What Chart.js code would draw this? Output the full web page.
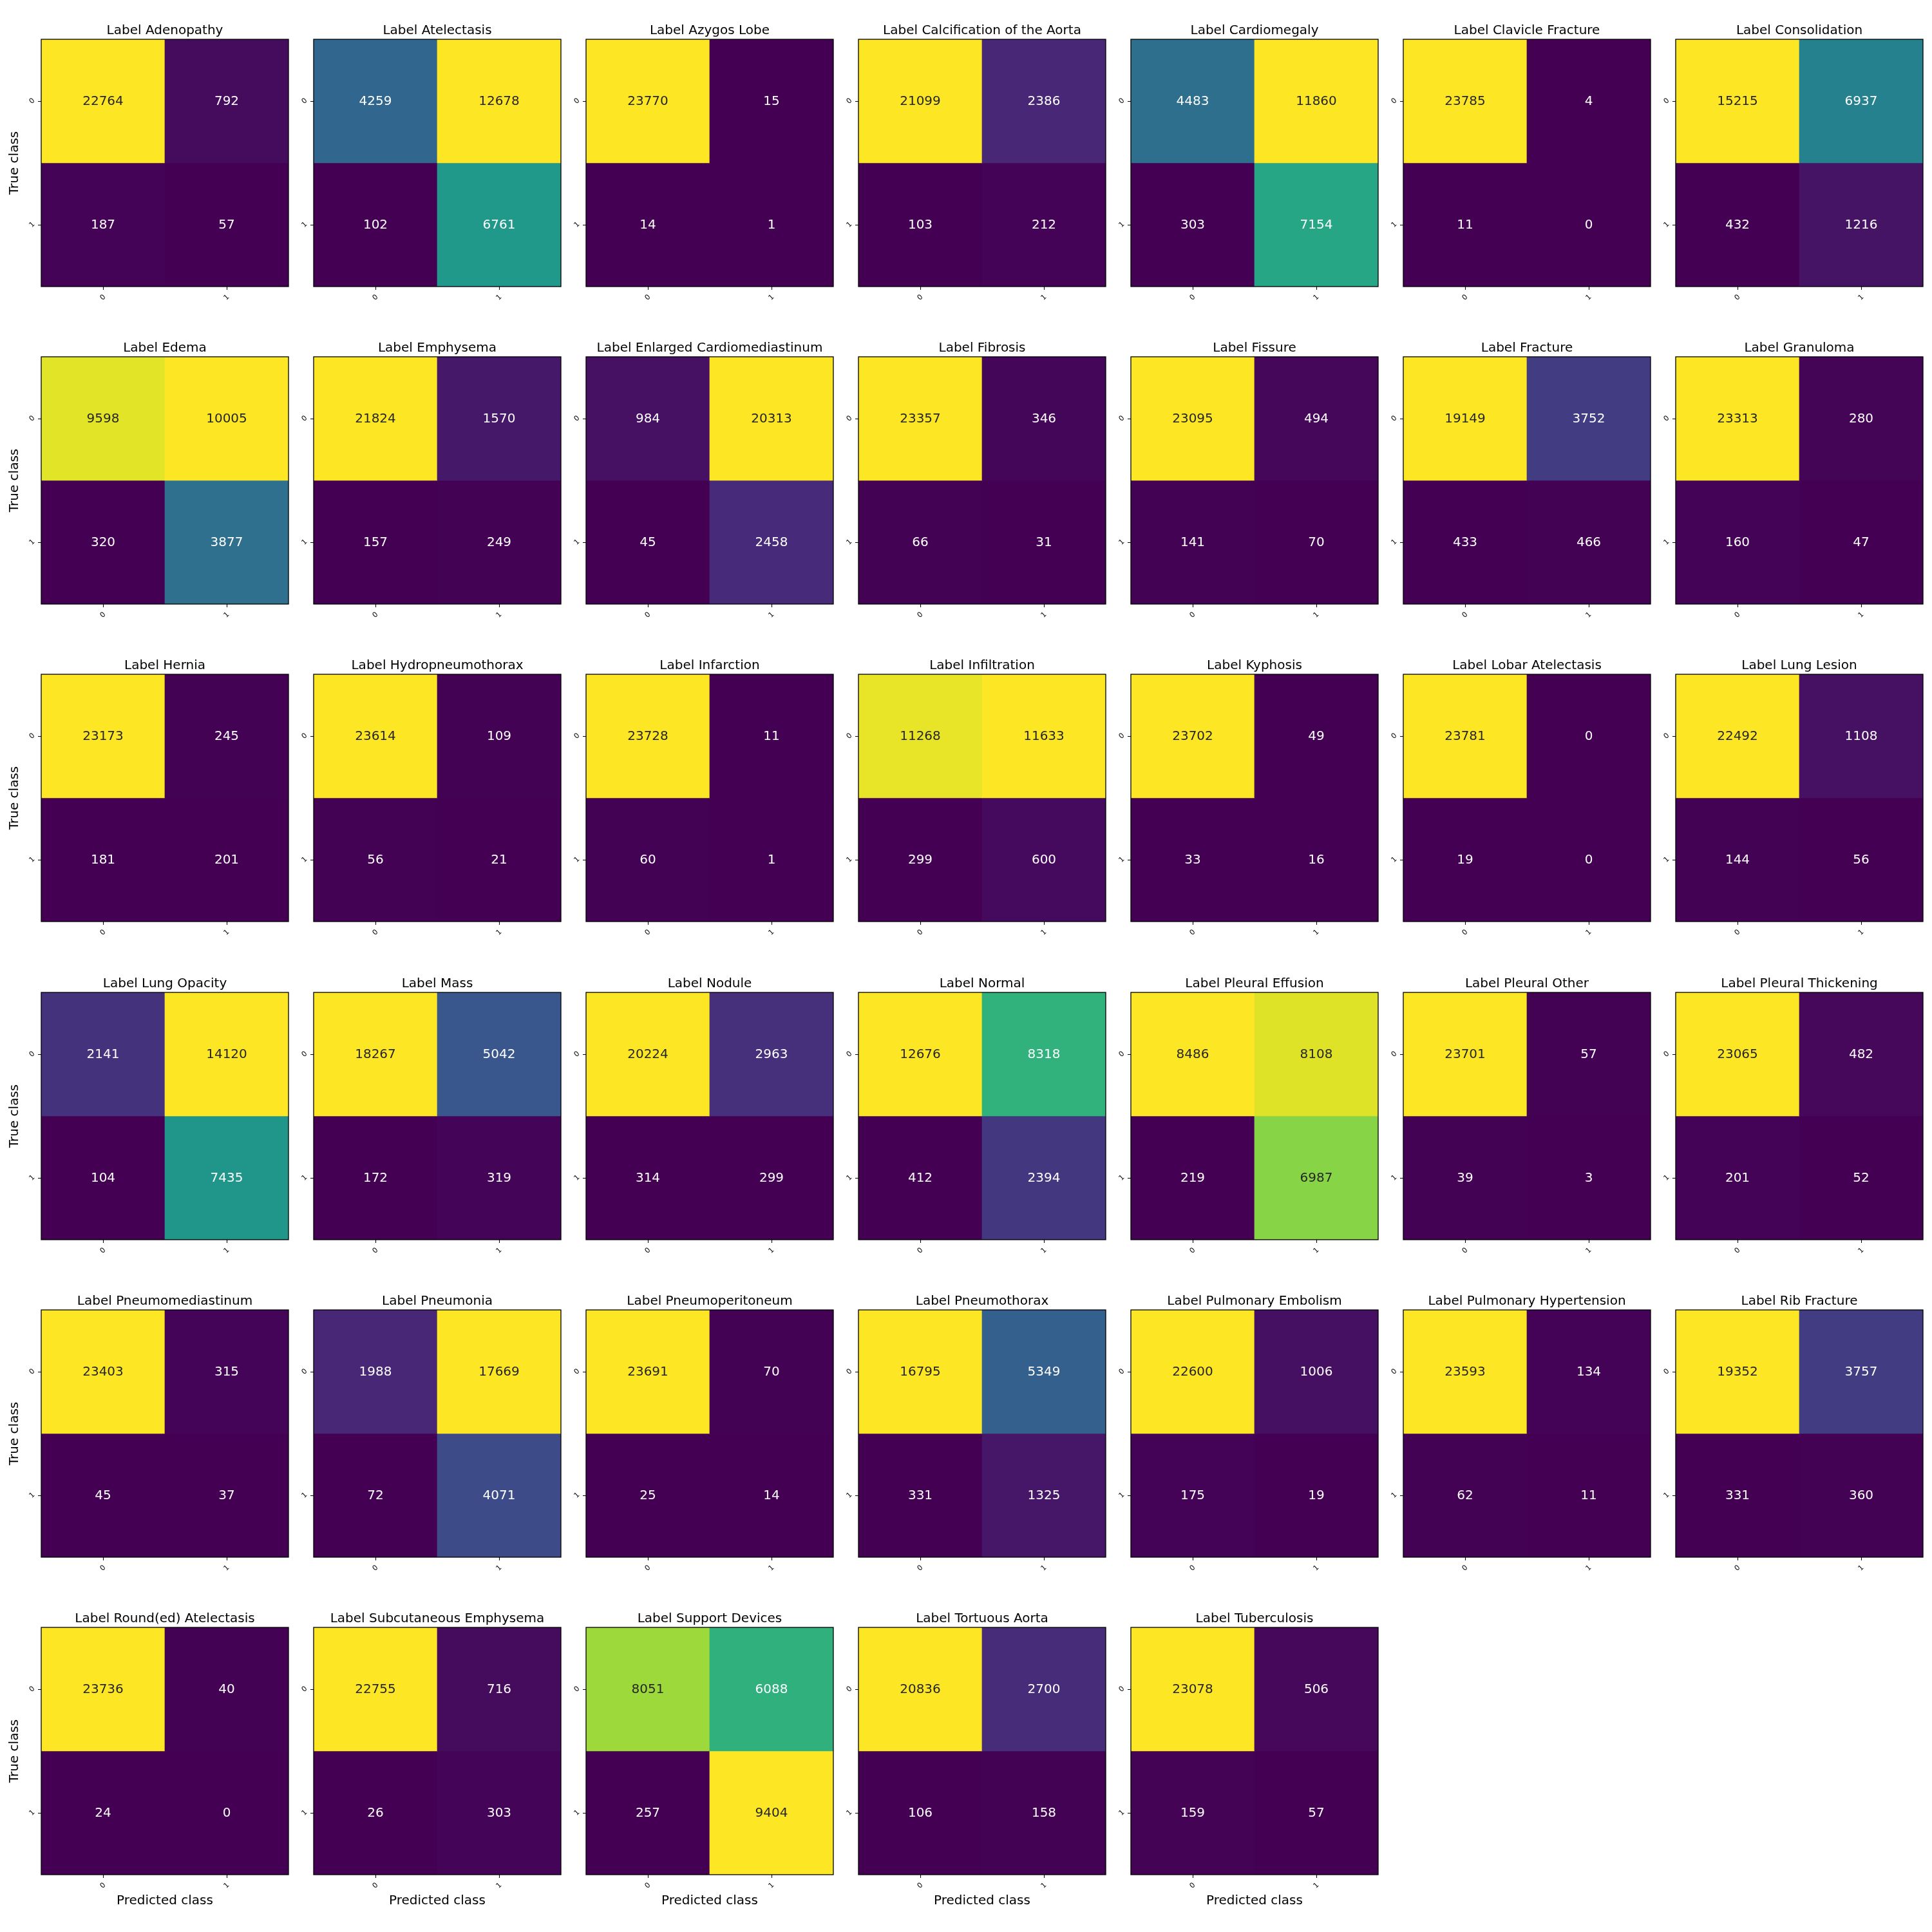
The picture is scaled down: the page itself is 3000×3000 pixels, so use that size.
<!DOCTYPE html>
<html><head><meta charset="utf-8">
<script src="https://cdn.jsdelivr.net/npm/chart.js@4.4.1/dist/chart.umd.min.js"></script>
<style>
html,body{margin:0;padding:0;background:#fff;}
#wrap{position:relative;width:3000px;height:3000px;background:#fff;overflow:hidden;}
#wrap canvas{position:absolute;}
</style></head><body><div id="wrap"></div>
<script>
// ---------------- data ----------------
const labelNames = ["Adenopathy","Atelectasis","Azygos Lobe","Calcification of the Aorta","Cardiomegaly","Clavicle Fracture","Consolidation",
 "Edema","Emphysema","Enlarged Cardiomediastinum","Fibrosis","Fissure","Fracture","Granuloma",
 "Hernia","Hydropneumothorax","Infarction","Infiltration","Kyphosis","Lobar Atelectasis","Lung Lesion",
 "Lung Opacity","Mass","Nodule","Normal","Pleural Effusion","Pleural Other","Pleural Thickening",
 "Pneumomediastinum","Pneumonia","Pneumoperitoneum","Pneumothorax","Pulmonary Embolism","Pulmonary Hypertension","Rib Fracture",
 "Round(ed) Atelectasis","Subcutaneous Emphysema","Support Devices","Tortuous Aorta","Tuberculosis"];
// cell [true 0, predicted 0]
const trueNeg  = [22764,4259,23770,21099,4483,23785,15215, 9598,21824,984,23357,23095,19149,23313, 23173,23614,23728,11268,23702,23781,22492, 2141,18267,20224,12676,8486,23701,23065, 23403,1988,23691,16795,22600,23593,19352, 23736,22755,8051,20836,23078];
// cell [true 0, predicted 1]
const falsePos = [792,12678,15,2386,11860,4,6937, 10005,1570,20313,346,494,3752,280, 245,109,11,11633,49,0,1108, 14120,5042,2963,8318,8108,57,482, 315,17669,70,5349,1006,134,3757, 40,716,6088,2700,506];
// cell [true 1, predicted 0]
const falseNeg = [187,102,14,103,303,11,432, 320,157,45,66,141,433,160, 181,56,60,299,33,19,144, 104,172,314,412,219,39,201, 45,72,25,331,175,62,331, 24,26,257,106,159];
// cell [true 1, predicted 1]
const truePos  = [57,6761,1,212,7154,0,1216, 3877,249,2458,31,70,466,47, 201,21,1,600,16,0,56, 7435,319,299,2394,6987,3,52, 37,4071,14,1325,19,11,360, 0,303,9404,158,57];
const classTicks = ["0","1"];

// ---------------- style ----------------
const FONT = "'DejaVu Sans', 'Liberation Sans', sans-serif";
const VIR = [[0,'#440154'],[1/9,'#482878'],[2/9,'#3e4989'],[0.25,'#3b528b'],[3/9,'#31688e'],[4/9,'#26828e'],[0.5,'#21918c'],[5/9,'#1f9e89'],[6/9,'#35b779'],[0.75,'#5ec962'],[7/9,'#6ece58'],[8/9,'#b5de2b'],[1,'#fde725']];
function hex2rgb(h){return [parseInt(h.slice(1,3),16),parseInt(h.slice(3,5),16),parseInt(h.slice(5,7),16)];}
function viridis(t){
  t=Math.max(0,Math.min(1,t));
  for(let i=0;i<VIR.length-1;i++){
    const [t0,c0]=VIR[i],[t1,c1]=VIR[i+1];
    if(t<=t1){const f=(t-t0)/(t1-t0);const a=hex2rgb(c0),b=hex2rgb(c1);
      return a.map((v,k)=>Math.round(v+(b[k]-v)*f));}
  }
  return hex2rgb('#fde725');
}
function lum(rgb){
  const l=rgb.map(v=>{v/=255;return v<=0.03928?v/12.92:Math.pow((v+0.055)/1.055,2.4);});
  return 0.2126*l[0]+0.7152*l[1]+0.0722*l[2];
}
const css=rgb=>`rgb(${rgb[0]},${rgb[1]},${rgb[2]})`;

const NCOL=7, PLOT=384, X0=64, XSTEP=423, Y0=61, YSTEP=493.2;
const PADL=64, PADT=61, PADR=24, PADB=72;
const wrap=document.getElementById('wrap');
const nPanels=labelNames.length;
const lastRowStart=Math.floor((nPanels-1)/NCOL)*NCOL;

labelNames.forEach((name,k)=>{
  const c=k%NCOL, r=Math.floor(k/NCOL);
  const px=Math.round(X0+XSTEP*c), py=Math.round(Y0+YSTEP*r);
  const cv=document.createElement('canvas');
  const W=PADL+PLOT+PADR, H=PADT+PLOT+PADB;
  cv.width=W; cv.height=H;
  cv.style.width=W+'px'; cv.style.height=H+'px';
  cv.style.left=(px-PADL)+'px'; cv.style.top=(py-PADT)+'px';
  wrap.appendChild(cv);

  const cm=[[trueNeg[k],falsePos[k]],[falseNeg[k],truePos[k]]];
  const flat=cm.flat(); const mn=Math.min(...flat), mx=Math.max(...flat);
  const norm=v=>mx>mn?(v-mn)/(mx-mn):0;
  const colors=cm.map(row=>row.map(v=>viridis(norm(v))));
  const showY = c===0;
  const showX = k>=lastRowStart;

  const panelPlugin={
    id:'panel'+k,
    afterDraw(chart){
      const ctx=chart.ctx, a=chart.chartArea, xs=chart.scales.x, ys=chart.scales.y;
      ctx.save();
      // cell annotations
      ctx.font=`20px ${FONT}`; ctx.textAlign='center'; ctx.textBaseline='middle';
      cm.forEach((row,i)=>row.forEach((v,j)=>{
        ctx.fillStyle = lum(colors[i][j])>0.408 ? '#262626' : '#ffffff';
        ctx.fillText(String(v), xs.getPixelForValue(j), ys.getPixelForValue(i)+1);
      }));
      // frame
      ctx.strokeStyle='#000'; ctx.lineWidth=1.3;
      ctx.strokeRect(a.left, a.top, a.right-a.left, a.bottom-a.top);
      // ticks
      ctx.lineWidth=1.1;
      ctx.beginPath();
      classTicks.forEach((t,j)=>{
        const x=Math.round(xs.getPixelForValue(j))+0.5;
        ctx.moveTo(x,a.bottom); ctx.lineTo(x,a.bottom+5);
        const y=Math.round(ys.getPixelForValue(j))+0.5;
        ctx.moveTo(a.left,y); ctx.lineTo(a.left-5,y);
      });
      ctx.stroke();
      ctx.fillStyle='#000'; ctx.font=`11px ${FONT}`;
      classTicks.forEach((t,j)=>{
        ctx.save(); ctx.translate(xs.getPixelForValue(j), a.bottom+17); ctx.rotate(-Math.PI/4);
        ctx.fillText(t,0,0); ctx.restore();
        ctx.save(); ctx.translate(a.left-14, ys.getPixelForValue(j)); ctx.rotate(-Math.PI/4);
        ctx.fillText(t,0,0); ctx.restore();
      });
      // title
      ctx.font=`20px ${FONT}`; ctx.textBaseline='alphabetic'; ctx.fillStyle='#000';
      ctx.fillText('Label '+name,(a.left+a.right)/2,a.top-8);
      // axis titles
      if(showX){
        ctx.textBaseline='middle';
        ctx.fillText('Predicted class',(a.left+a.right)/2,a.bottom+41);
      }
      if(showY){
        ctx.save(); ctx.translate(a.left-41,(a.top+a.bottom)/2); ctx.rotate(-Math.PI/2);
        ctx.textBaseline='middle'; ctx.fillText('True class',0,0); ctx.restore();
      }
      ctx.restore();
    }
  };

  new Chart(cv,{
    type:'bar',
    data:{
      labels:classTicks,
      datasets:cm.map((row,i)=>({
        label:'True '+classTicks[i],
        data:row.map(()=>[i-0.5,i+0.5]),
        backgroundColor:colors[i].map(css),
        borderWidth:0, barPercentage:1, categoryPercentage:1, grouped:false
      }))
    },
    options:{
      responsive:false, animation:false, devicePixelRatio:1, events:[],
      layout:{padding:{left:PADL,top:PADT,right:PADR,bottom:PADB}},
      plugins:{legend:{display:false},tooltip:{enabled:false},title:{display:false}},
      scales:{
        x:{type:'category',display:false,offset:true},
        y:{type:'linear',display:false,min:-0.5,max:1.5,reverse:true}
      }
    },
    plugins:[panelPlugin]
  });
});
</script></body></html>
